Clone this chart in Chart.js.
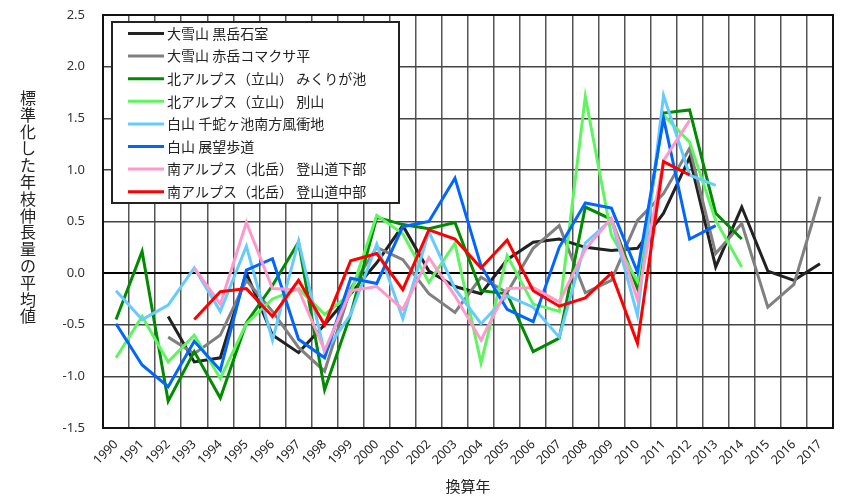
<!DOCTYPE html>
<html>
<head>
<meta charset="utf-8">
<script src="https://cdn.jsdelivr.net/npm/chart.js@4.4.1/dist/chart.umd.min.js"></script>
<style>
  html, body { margin: 0; padding: 0; background: #fff; }
  #wrap { width: 856px; height: 499px; }
</style>
</head>
<body>
<div id="wrap"><canvas id="chart" width="856" height="499"></canvas></div>
<script>
// years on the x axis
const years = [];
for (let y = 1990; y <= 2017; y++) years.push(String(y));

const yTitle = '標準化した年枝伸長量の平均値';
const xTitle = '換算年';

// series names, in legend order
const seriesNames = [
    '大雪山 黒岳石室',
    '大雪山 赤岳コマクサ平',
    '北アルプス（立山） みくりが池',
    '北アルプス（立山） 別山',
    '白山 千蛇ヶ池南方風衝地',
    '白山 展望歩道',
    '南アルプス（北岳） 登山道下部',
    '南アルプス（北岳） 登山道中部'
];

// values, 1990..2017
const kurodake = [null, null, -0.42, -0.86, -0.82, 0.0, -0.6, -0.77, -0.5, -0.2, 0.1, 0.46, 0.02, -0.13, -0.2, 0.13, 0.3, 0.33, 0.25, 0.22, 0.24, 0.58, 1.12, 0.06, 0.64, 0.02, -0.07, 0.09];
const akadake = [null, null, -0.62, -0.78, -0.6, -0.07, -0.37, -0.72, -0.95, -0.15, 0.25, 0.13, -0.2, -0.38, -0.04, -0.19, 0.24, 0.46, -0.19, -0.07, 0.51, 0.77, 1.21, 0.19, 0.48, -0.33, -0.11, 0.74];
const mikurigaike = [-0.45, 0.21, -1.24, -0.76, -1.21, -0.48, -0.12, 0.3, -1.13, -0.4, 0.54, 0.47, 0.43, 0.49, -0.17, -0.2, -0.76, -0.63, 0.64, 0.52, -0.15, 1.55, 1.58, 0.58, 0.33, null, null, null];
const bessan = [-0.82, -0.42, -0.86, -0.6, -1.02, -0.49, -0.25, -0.15, -0.4, -0.2, 0.56, 0.38, -0.09, 0.29, -0.87, 0.17, -0.3, -0.37, 1.71, 0.37, -0.08, 1.53, 1.27, 0.51, 0.06, null, null, null];
const senjagaike = [-0.17, -0.45, -0.31, 0.05, -0.37, 0.26, -0.65, 0.31, -0.77, -0.4, 0.28, -0.44, 0.4, -0.15, -0.49, -0.22, -0.33, -0.62, 0.29, 0.52, -0.41, 1.72, 0.95, 0.85, null, null, null, null];
const tenbou = [-0.49, -0.89, -1.1, -0.66, -0.94, 0.03, 0.14, -0.64, -0.82, -0.05, -0.1, 0.45, 0.5, 0.92, 0.07, -0.35, -0.47, 0.25, 0.68, 0.63, 0.01, 1.5, 0.33, 0.46, null, null, null, null];
const tozanLower = [null, null, null, 0.05, -0.3, 0.49, -0.15, -0.16, -0.75, -0.17, -0.13, -0.35, 0.15, -0.22, -0.65, -0.15, -0.14, -0.28, 0.23, 0.53, -0.26, 1.09, 1.48, null, null, null, null, null];
const tozanMiddle = [null, null, null, -0.45, -0.18, -0.15, -0.42, -0.07, -0.5, 0.12, 0.19, -0.16, 0.42, 0.33, 0.05, 0.32, -0.17, -0.32, -0.24, 0.0, -0.68, 1.08, 0.95, null, null, null, null, null];

const seriesValues = [kurodake, akadake, mikurigaike, bessan, senjagaike, tenbou, tozanLower, tozanMiddle];
const seriesColors = ['#222222', '#808080', '#008c00', '#5ff55f', '#66ccff', '#0066ff', '#ff99cc', '#ff0000'];

const jpFont = '"Noto Sans CJK JP", "Noto Sans", sans-serif';

const datasets = seriesNames.map((name, i) => ({
    label: name,
    data: seriesValues[i],
    borderColor: seriesColors[i],
    backgroundColor: seriesColors[i],
    borderWidth: 3,
    pointRadius: 0,
    tension: 0,
    fill: false,
    order: seriesNames.length - i // later series on top, like the original
}));

// legend box drawn inside the plot, top-left
const insideLegend = {
    id: 'insideLegend',
    afterDatasetsDraw(chart) {
        const ctx = chart.ctx;
        const left = 112, top = 22, w = 287, h = 181;
        ctx.save();
        ctx.fillStyle = '#fff';
        ctx.fillRect(left, top, w, h);
        ctx.strokeStyle = '#222';
        ctx.lineWidth = 2;
        ctx.strokeRect(left, top, w, h);
        ctx.font = '14px ' + jpFont;
        ctx.textBaseline = 'middle';
        seriesNames.forEach((name, i) => {
            const y = top + 11.5 + i * 22.6;
            ctx.strokeStyle = seriesColors[i];
            ctx.lineWidth = 3;
            ctx.beginPath();
            ctx.moveTo(128, y);
            ctx.lineTo(164, y);
            ctx.stroke();
            ctx.fillStyle = '#222';
            ctx.fillText(name, 167, y);
        });
        ctx.restore();
    }
};

// plot frame + upright stacked y title
const frameAndTitle = {
    id: 'frameAndTitle',
    afterDraw(chart) {
        const ctx = chart.ctx;
        const a = chart.chartArea;
        ctx.save();
        ctx.strokeStyle = '#111';
        ctx.lineWidth = 2;
        ctx.strokeRect(a.left, a.top, a.right - a.left, a.bottom - a.top);
        ctx.fillStyle = '#222';
        ctx.font = '16px ' + jpFont;
        ctx.textAlign = 'center';
        ctx.textBaseline = 'middle';
        const chars = Array.from(yTitle);
        chars.forEach((ch, i) => {
            ctx.fillText(ch, 28, 98 + i * 16.8);
        });
        ctx.restore();
    }
};

new Chart(document.getElementById('chart'), {
    type: 'line',
    data: { labels: years, datasets: datasets },
    options: {
        responsive: false,
        animation: false,
        layout: { padding: { left: 0, right: 23, top: 15, bottom: 0 } },
        plugins: {
            legend: { display: false },
            tooltip: { enabled: false }
        },
        scales: {
            x: {
                offset: true,
                grid: { offset: true, color: '#555', lineWidth: 1.5, drawTicks: false },
                border: { color: '#111', width: 2 },
                ticks: {
                    autoSkip: false,
                    maxRotation: 45,
                    minRotation: 45,
                    padding: 9,
                    color: '#222',
                    font: { family: '"Noto Sans", sans-serif', size: 12.5 }
                },
                title: {
                    display: true,
                    text: xTitle,
                    color: '#222',
                    font: { family: jpFont, size: 15 },
                    padding: { top: 2, bottom: 4 }
                },
                afterFit(scale) { scale.height = 71; scale.paddingLeft = 0; scale.paddingRight = 0; }
            },
            y: {
                min: -1.5,
                max: 2.5,
                grid: {
                    color: (c) => (c.tick && c.tick.value === 0 ? '#000' : '#444'),
                    lineWidth: (c) => (c.tick && c.tick.value === 0 ? 2 : 1.5),
                    drawTicks: false
                },
                border: { color: '#111', width: 2 },
                ticks: {
                    stepSize: 0.5,
                    padding: 18,
                    color: '#333',
                    font: { family: '"Noto Sans", sans-serif', size: 13 },
                    callback: (v) => Number(v).toFixed(1)
                },
                afterFit(scale) { scale.width = 103; scale.paddingTop = 0; scale.paddingBottom = 0; }
            }
        }
    },
    plugins: [insideLegend, frameAndTitle]
});
</script>
</body>
</html>
